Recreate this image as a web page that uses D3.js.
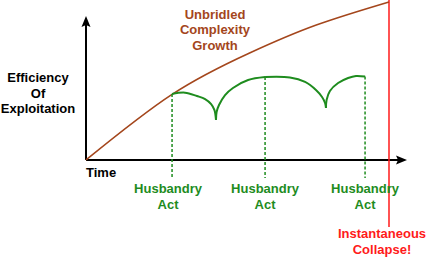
<!DOCTYPE html>
<html>
<head>
<meta charset="utf-8">
<script src="https://cdn.jsdelivr.net/npm/d3@7"></script>
<style>
body{margin:0;background:#fff;}
text{font-family:"Liberation Sans",Arial,sans-serif;font-weight:bold;font-size:13px;}
</style>
</head>
<body>
<div id="chart-area"></div>
<script>
// time runs 0..100 (100 = collapse), efficiency 0..100

let growthT=[0,28.4,54,76,100];
let growthV=[0,41.5,67.7,85.4,100];

// husbandry arcs, each one a separate piece between cusps
let arcT=[
	[28.4,32.7,36.6,39.3,41.3,42.4,42.9],
	[42.9,43.1,43.9,45.9,48.5,53.5,59.1],
	[59.1,67.3,72.3,75.9,77.9,78.9,79.2],
	[79.2,79.4,80.5,83.2,86.5,89.1,92.1]
];
let arcV=[
	[41.8,42.6,40.5,38.6,35.4,31.6,25.3],
	[25.3,30.4,34.8,41.1,45.6,50.6,52.5],
	[52.5,52.2,49.4,44.3,39.9,36.1,32.9],
	[32.9,38,43.7,48.7,51.9,53.2,52.8]
];

let actT=[28.4,59.1,92.1];
let actV=[41.8,52.5,52.8];
let actLabel=["Husbandry","Act"];
let collapseT=100;

let yLabelLines=["Efficiency","Of","Exploitation"];
let growthLabel=["Unbridled","Complexity","Growth"];
let collapseLabel=["Instantaneous","Collapse!"];

let W=428,H=258;
let brown="#a4461c",green="#1e8c1e",red="#ff1a1a";

let svg=d3.select("#chart-area").append('svg')
	.attr('width',W)
	.attr('height',H);

//---------SCALES--------------
let x=d3.scaleLinear().domain([0,100]).range([86,389]);
let y=d3.scaleLinear().domain([0,100]).range([160,2]);

//-------AXES------------------
let x0=x(0),y0=y(0);
svg.append('line')
	.attr('x1',x0).attr('y1',y0).attr('x2',400).attr('y2',y0)
	.attr('stroke','#000').attr('stroke-width',2);
svg.append('path')
	.attr('d','M407,'+y0+' L396,'+(y0-4.5)+' L398,'+y0+' L396,'+(y0+4.5)+' Z')
	.attr('fill','#000');
svg.append('line')
	.attr('x1',x0).attr('y1',y0).attr('x2',x0).attr('y2',22)
	.attr('stroke','#000').attr('stroke-width',2);
svg.append('path')
	.attr('d','M'+x0+',16 L'+(x0-4.5)+',27 L'+x0+',25 L'+(x0+4.5)+',27 Z')
	.attr('fill','#000');

//-------COLLAPSE LINE---------
svg.append('line')
	.attr('x1',x(collapseT)).attr('x2',x(collapseT))
	.attr('y1',0).attr('y2',227)
	.attr('stroke',red).attr('stroke-width',1.5);

//-------GROWTH CURVE----------
let line=d3.line().x(d=>x(d[0])).y(d=>y(d[1])).curve(d3.curveNatural);
svg.append('path')
	.attr('d',line(growthT.map((t,i)=>[t,growthV[i]])))
	.attr('fill','none').attr('stroke',brown).attr('stroke-width',1.6);

//-------HUSBANDRY-------------
let arcLine=d3.line().x(d=>x(d[0])).y(d=>y(d[1])).curve(d3.curveCatmullRom.alpha(0.5));
arcT.forEach(function(ts,j){
	svg.append('path')
		.attr('d',arcLine(ts.map((t,i)=>[t,arcV[j][i]])))
		.attr('fill','none').attr('stroke',green).attr('stroke-width',2);
});

actT.forEach(function(t,i){
	svg.append('line')
		.attr('x1',x(t)).attr('x2',x(t))
		.attr('y1',y(actV[i])).attr('y2',y0+18)
		.attr('stroke',green).attr('stroke-width',1.5)
		.attr('stroke-dasharray','3,2');
	actLabel.forEach(function(s,k){
		svg.append('text')
			.attr('x',x(t)-(i===0?4:0)).attr('y',193+k*15.5)
			.attr('text-anchor','middle').attr('fill',green)
			.text(s);
	});
});

//------LABELS----------------
svg.append('text')
	.attr('x',x0).attr('y',177)
	.attr('fill','#000')
	.text('Time');

yLabelLines.forEach(function(s,k){
	svg.append('text')
		.attr('x',38).attr('y',82+k*15.5)
		.attr('text-anchor','middle').attr('fill','#000')
		.text(s);
});

growthLabel.forEach(function(s,k){
	svg.append('text')
		.attr('x',215).attr('y',18.5+k*15.5)
		.attr('text-anchor','middle').attr('fill',brown)
		.text(s);
});

collapseLabel.forEach(function(s,k){
	svg.append('text')
		.attr('x',382).attr('y',238+k*16)
		.attr('text-anchor','middle').attr('fill',red)
		.text(s);
});
</script>
</body>
</html>
